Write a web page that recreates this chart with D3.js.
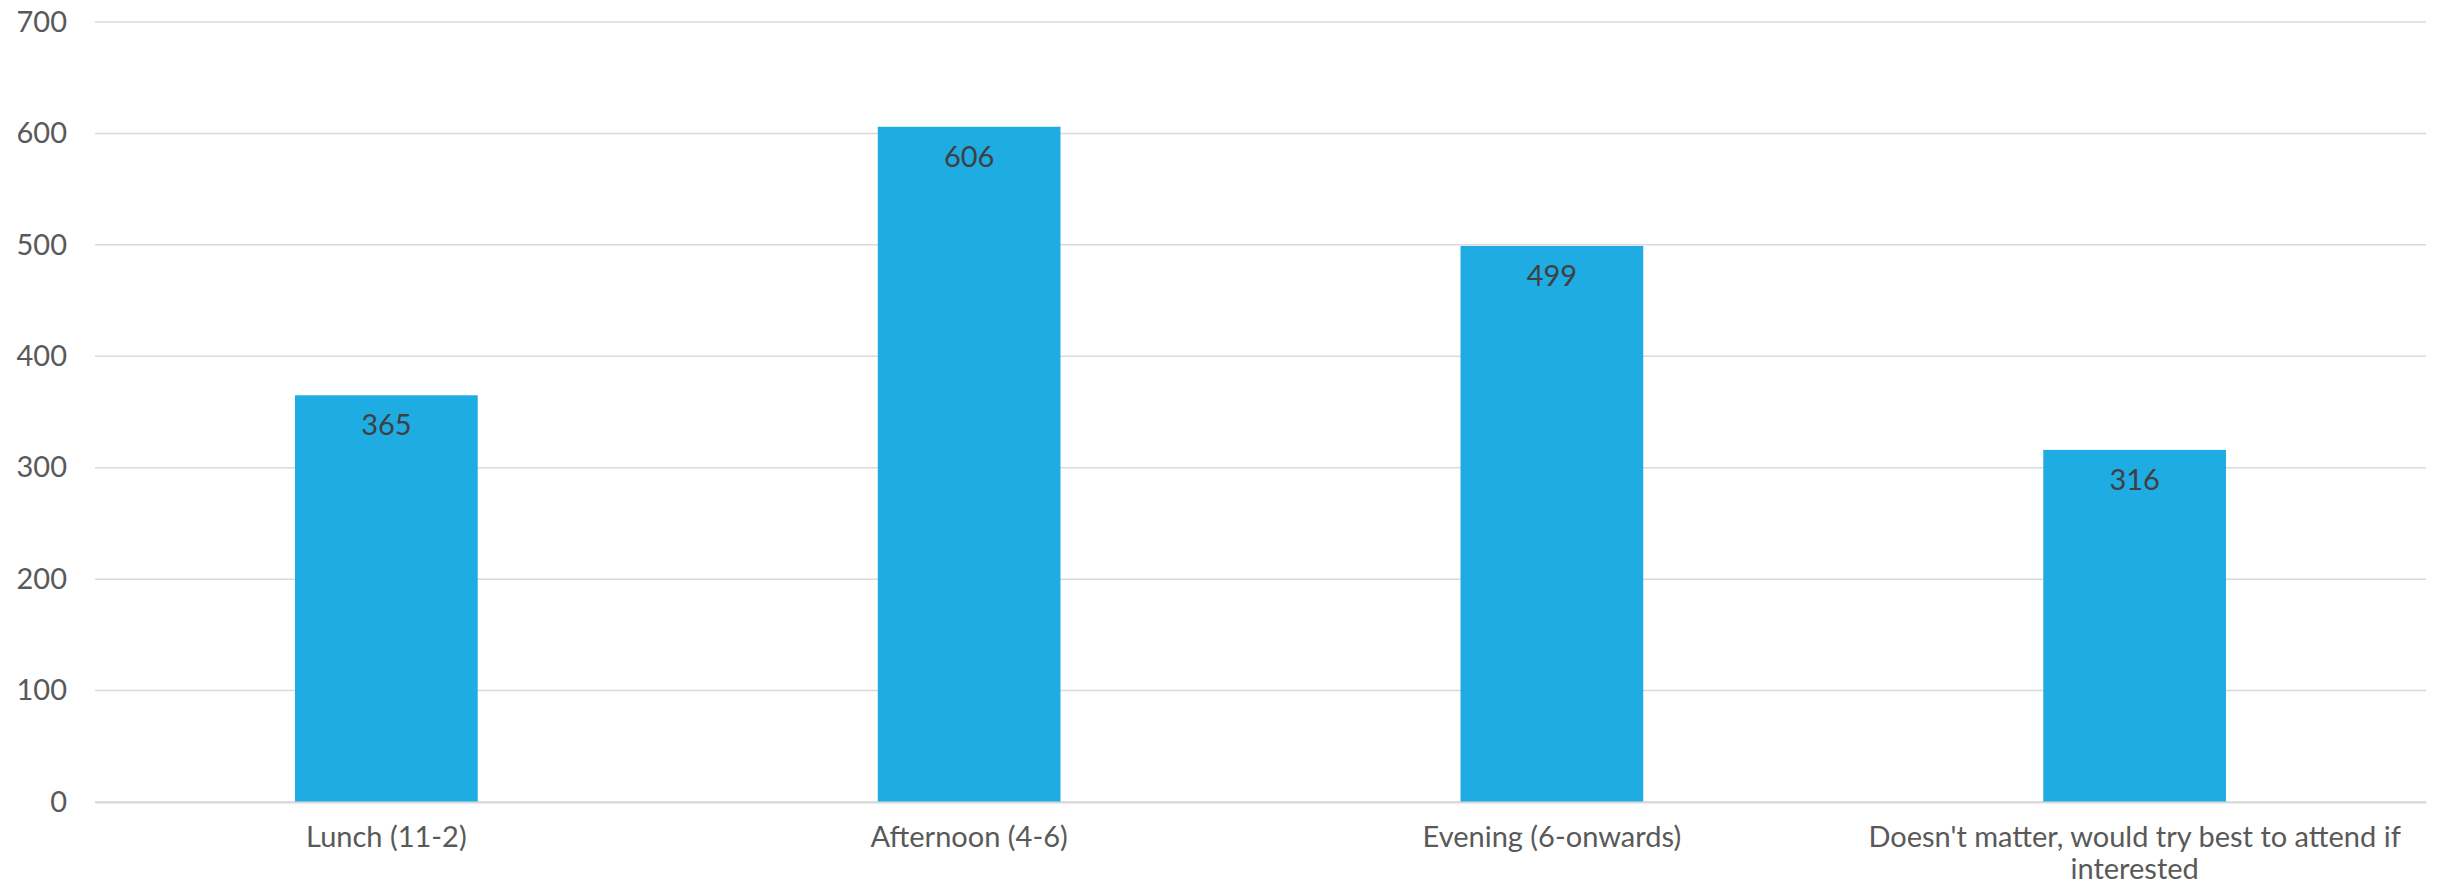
<!DOCTYPE html>
<html>
<head>
<meta charset="utf-8">
<script src="https://cdn.jsdelivr.net/npm/d3@7"></script>
<style>
  html, body { margin: 0; padding: 0; background: #fff; }
  svg { display: block; }
  text { font-family: Lato, "Open Sans", sans-serif; }
</style>
</head>
<body>
<svg id="chart" width="2438" height="886"></svg>
<script>
const categories = ["Lunch (11-2)", "Afternoon (4-6)", "Evening (6-onwards)", "Doesn't matter, would try best to attend if interested"];
const values = [365, 606, 499, 316];
const yTicks = [0, 100, 200, 300, 400, 500, 600, 700];

const W = 2438, H = 886;
const margin = { left: 95, right: 12, top: 22, bottom: 84 };
const svg = d3.select("#chart");

const x = d3.scaleBand()
  .domain(categories)
  .range([margin.left, W - margin.right])
  .paddingInner(0.6865)
  .paddingOuter(0.34325);

const y = d3.scaleLinear()
  .domain([0, 700])
  .range([H - margin.bottom, margin.top]);

// gridlines
svg.append("g")
  .selectAll("line")
  .data(yTicks)
  .join("line")
  .attr("x1", margin.left)
  .attr("x2", W - margin.right)
  .attr("y1", d => y(d))
  .attr("y2", d => y(d))
  .attr("stroke", "#d9d9d9")
  .attr("stroke-width", 1.5);

// y axis labels
const yAxis = d3.axisLeft(y).tickValues(yTicks).tickSize(0).tickPadding(28);
const gy = svg.append("g")
  .attr("transform", `translate(${margin.left},0)`)
  .call(yAxis);
gy.select(".domain").remove();
gy.selectAll("text")
  .attr("font-size", 29)
  .attr("fill", "#595959")
  .attr("font-family", "Lato, sans-serif");

// bars
svg.append("g")
  .selectAll("rect")
  .data(values)
  .join("rect")
  .attr("x", (d, i) => x(categories[i]))
  .attr("width", x.bandwidth())
  .attr("y", d => y(d))
  .attr("height", d => y(0) - y(d))
  .attr("fill", "#1EACE3");

// data labels
svg.append("g")
  .selectAll("text")
  .data(values)
  .join("text")
  .attr("x", (d, i) => x(categories[i]) + x.bandwidth() / 2)
  .attr("y", d => y(d) + 40)
  .attr("text-anchor", "middle")
  .attr("font-size", 29)
  .attr("fill", "#404040")
  .text(d => d);

// x axis
const xAxis = d3.axisBottom(x).tickSize(0).tickPadding(45);
const gx = svg.append("g")
  .attr("transform", `translate(0,${y(0)})`)
  .call(xAxis);
gx.select(".domain")
  .attr("stroke", "#d9d9d9")
  .attr("stroke-width", 2);
gx.selectAll("text")
  .attr("font-size", 29)
  .attr("fill", "#595959")
  .attr("font-family", "Lato, sans-serif")
  .attr("dy", "0")
  .each(function(d) {
    const t = d3.select(this);
    const words = d.split(" ");
    const maxW = x.step() * 0.95;
    t.text(null);
    let line = [];
    let tspan = t.append("tspan").attr("x", 0).attr("dy", 0);
    for (const w of words) {
      line.push(w);
      tspan.text(line.join(" "));
      if (tspan.node().getComputedTextLength() > maxW && line.length > 1) {
        line.pop();
        tspan.text(line.join(" "));
        line = [w];
        tspan = t.append("tspan").attr("x", 0).attr("dy", 32).text(w);
      }
    }
  });
</script>
</body>
</html>
